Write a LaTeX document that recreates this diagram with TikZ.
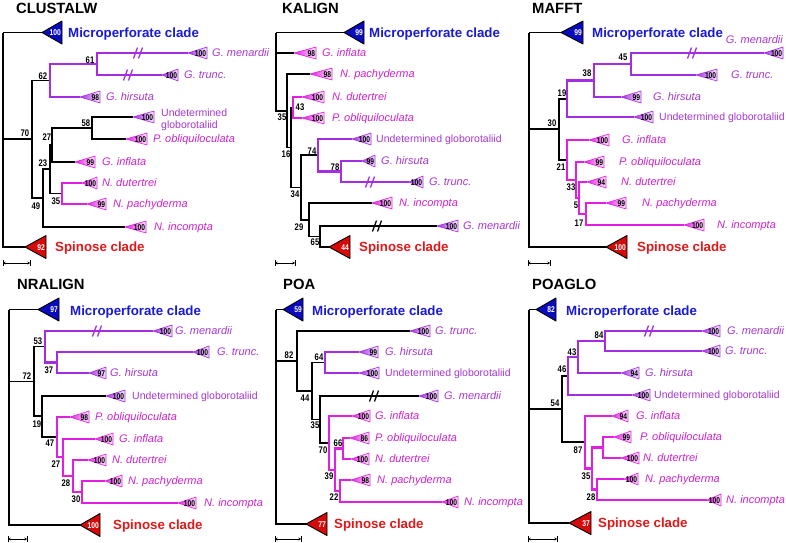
\documentclass[tikz,border=0pt]{standalone}
\usepackage{fontspec}
\setmainfont{Liberation Sans}
\newfontfamily\numfont[FakeStretch=0.8]{Liberation Sans}
\usetikzlibrary{arrows.meta}
\definecolor{puL}{RGB}{165,45,225}
\definecolor{mgL}{RGB}{225,30,225}
\definecolor{puT}{RGB}{165,55,210}
\definecolor{mgT}{RGB}{205,35,205}
\definecolor{blueF}{RGB}{10,10,190}
\definecolor{redF}{RGB}{215,10,10}
\definecolor{blueT}{RGB}{25,25,215}
\definecolor{redT}{RGB}{225,25,25}
\tikzset{
 bk/.style={line width=1.8pt,draw=black},
 pu/.style={line width=2.1pt,draw=puL},
 mg/.style={line width=2.1pt,draw=mgL},
 ttl/.style={anchor=west,inner sep=0pt,font=\fontsize{14.8}{16}\selectfont\bfseries,text height=10.6pt,text depth=0pt},
 clade/.style={anchor=west,inner sep=0pt,font=\fontsize{13.3}{15}\selectfont\bfseries,text height=9.5pt,text depth=0pt},
 lab/.style={anchor=west,inner sep=0pt,font=\fontsize{11}{13}\selectfont\itshape,text height=7.9pt,text depth=0pt},
 labu/.style={anchor=west,inner sep=0pt,font=\fontsize{10.5}{12}\selectfont,text height=7.5pt,text depth=0pt},
 bs/.style={inner sep=0pt,font=\numfont\bfseries\fontsize{9.6}{11}\selectfont,text height=6.9pt,text depth=0pt},
 tn/.style={inner sep=0pt,anchor=east,font=\numfont\bfseries\fontsize{8.4}{9}\selectfont,text height=6pt,text depth=0pt},
 tnw/.style={tn,text=white},
}
% branch: style, parent x, parent y, child x, child y
\newcommand\Br[5]{\draw[#1] (#2,#3) |- (#4,#5);}
% break mark
\newcommand\Bk[3]{\draw[#1,line width=1.3pt] ({#2-4.5},{#3+5.5}) -- ({#2-0.5},{#3-5.5}) ({#2+0.5},{#3+5.5}) -- ({#2+4.5},{#3-5.5});}
% leaf triangle: apex x, y, base x, number, colour
\newcommand\Lf[5]{\shadedraw[left color=#5,right color=#5!8,middle color=#5!55,draw=#5,line width=0.6pt,line join=round] (#1,#2) -- (#3,{#2-6}) -- (#3,{#2+6}) -- cycle;
 \node[tn] at ({#3-0.6},#2) {#4};}
% clade triangle
\newcommand\Cl[5]{\filldraw[fill=#5,draw=black,line width=0.9pt,line join=round] (#1,#2) -- (#3,{#2-11.5}) -- (#3,{#2+11.5}) -- cycle;
 \node[tnw] at ({#3-1},#2) {#4};}
% scale bar
\newcommand\Sb[3]{\draw[line width=0.6pt,{Stealth[length=2.6pt,width=3pt]}-{Stealth[length=2.6pt,width=3pt]}] (#1,#3) -- (#2,#3);
 \draw[line width=0.6pt] (#1,{#3-2.6}) -- (#1,{#3+2.6}) (#2,{#3-2.6}) -- (#2,{#3+2.6});}
\begin{document}
\begin{tikzpicture}[x=1pt,y=-1pt]
\fill[white] (0,0) rectangle (786,542);
\useasboundingbox (0,0) rectangle (786,542);

%================ CLUSTALW
\begin{scope}
\node[ttl] (t1) at (16,8) {CLUSTALW};
\draw[bk] (3,32.5) -- (42,32.5);
\Br{bk}{3}{32.5}{32}{139}
\Br{bk}{3}{32.5}{25}{247}
\Br{bk}{32}{139}{50}{80.5}
\Br{bk}{32}{139}{43}{198}
\Br{pu}{50}{80.5}{97}{64}
\Br{pu}{50}{80.5}{80}{97}
\Br{pu}{97}{64}{188}{53}
\Br{pu}{97}{64}{162}{75}
\Br{bk}{43}{198}{50}{169}
\Br{bk}{43}{198}{125}{227}
\Br{bk}{50}{169}{52}{145}
\Br{bk}{50}{169}{62}{193.5}
\Br{bk}{52}{145}{92}{128}
\Br{bk}{52}{145}{75}{162}
\Br{bk}{92}{128}{133}{117}
\Br{bk}{92}{128}{126}{139}
\Br{mg}{62}{193.5}{82}{183}
\Br{mg}{62}{193.5}{87}{204}
\Bk{pu}{138}{53}
\Bk{pu}{128}{75}
\Cl{42}{32.5}{62}{100}{blueF}
\Cl{25}{247}{46}{92}{redF}
\node[clade,text=blueT] (m1) at (68,32.5) {Microperforate clade};
\node[clade,text=redT] (s1) at (55,247) {Spinose clade};
\Lf{188}{53}{207}{100}{puL}
\Lf{162}{75}{178}{100}{puL}
\Lf{80}{97}{100}{98}{puL}
\Lf{133}{117}{154}{100}{puL}
\Lf{126}{139}{147}{100}{mgL}
\Lf{75}{162}{95}{99}{mgL}
\Lf{82}{183}{97}{100}{mgL}
\Lf{87}{204}{106}{99}{mgL}
\Lf{125}{227}{146}{100}{mgL}
\node[lab,text=puT] (a1) at (212,53) {G. menardii};
\node[lab,text=puT] (a2) at (184,75) {G. trunc.};
\node[lab,text=puT] (a3) at (106,97) {G. hirsuta};
\node[labu,text=puT] (a4) at (161,112.5) {Undetermined};
\node[labu,text=puT] (a4b) at (161,124.5) {globorotaliid};
\node[lab,text=mgT] (a5) at (153,139) {P. obliquiloculata};
\node[lab,text=mgT] (a6) at (102,162) {G. inflata};
\node[lab,text=mgT] (a7) at (102,183) {N. dutertrei};
\node[lab,text=mgT] (a8) at (113,204) {N. pachyderma};
\node[lab,text=mgT] (a9) at (154,227) {N. incompta};
\node[bs] (b1) at (90,60) {61};
\node[bs] (b2) at (43,76) {62};
\node[bs] (b3) at (86,123) {58};
\node[bs] (b4) at (25,133) {70};
\node[bs] (b5) at (47,137) {27};
\node[bs] (b6) at (43,163) {23};
\node[bs] (b7) at (56,201) {35};
\node[bs] (b8) at (36,206) {49};
\Sb{3}{30}{263}
\end{scope}

%================ KALIGN
\begin{scope}[shift={(262,0)}]
\node[ttl] (t2) at (20,8) {KALIGN};
\draw[bk] (14,32.5) -- (82,32.5);
\Br{bk}{14}{32.5}{32}{53}
\Br{bk}{14}{32.5}{25}{111}
\Br{bk}{25}{111}{48}{74}
\Br{bk}{25}{111}{29}{147.5}
\Br{bk}{29}{147.5}{31}{107.5}
\Br{bk}{29}{147.5}{39}{187.5}
\Br{mg}{31}{107.5}{40}{97}
\Br{mg}{31}{107.5}{40}{118}
\Br{bk}{39}{187.5}{56}{155}
\Br{bk}{39}{187.5}{47}{220}
\Br{pu}{56}{155}{90}{139}
\Br{pu}{56}{155}{79}{171.5}
\Br{pu}{79}{171.5}{100}{161}
\Br{pu}{79}{171.5}{147}{182}
\Br{bk}{47}{220}{110}{203}
\Br{bk}{47}{220}{58}{236.5}
\Br{bk}{58}{236.5}{175}{226}
\Br{bk}{58}{236.5}{67}{247}
\Bk{pu}{108}{182}
\Bk{bk}{115}{226}
\Cl{82}{32.5}{102}{99}{blueF}
\Cl{67}{247}{88}{44}{redF}
\node[clade,text=blueT] (m2) at (107,32.5) {Microperforate clade};
\node[clade,text=redT] (s2) at (97,247) {Spinose clade};
\Lf{32}{53}{54}{98}{mgL}
\Lf{48}{74}{70}{98}{mgL}
\Lf{40}{97}{62}{100}{mgL}
\Lf{40}{118}{62}{100}{mgL}
\Lf{90}{139}{109}{100}{puL}
\Lf{100}{161}{113}{99}{puL}
\Lf{147}{182}{161}{100}{puL}
\Lf{110}{203}{130}{100}{mgL}
\Lf{175}{226}{196}{100}{puL}
\node[lab,text=mgT] (c1) at (60,53) {G. inflata};
\node[lab,text=mgT] (c2) at (78,74) {N. pachyderma};
\node[lab,text=mgT] (c3) at (70,97) {N. dutertrei};
\node[lab,text=mgT] (c4) at (70,118) {P. obliquiloculata};
\node[labu,text=puT] (c5) at (114,139) {Undetermined globorotaliid};
\node[lab,text=puT] (c6) at (119,161) {G. hirsuta};
\node[lab,text=puT] (c7) at (167,182) {G. trunc.};
\node[lab,text=mgT] (c8) at (137,203) {N. incompta};
\node[lab,text=puT] (c9) at (201,226) {G. menardii};
\node[bs] (d1) at (20,117) {35};
\node[bs] (d2) at (38,107) {43};
\node[bs] (d3) at (24,154) {16};
\node[bs] (d4) at (33,194) {34};
\node[bs] (d5) at (50,151) {74};
\node[bs] (d6) at (73,167) {78};
\node[bs] (d7) at (37,227) {29};
\node[bs] (d8) at (53,242) {65};
\Sb{13}{33}{263}
\end{scope}

%================ MAFFT
\begin{scope}[shift={(524,0)}]
\node[ttl] (t3) at (8,8) {MAFFT};
\draw[bk] (5,32.5) -- (37,32.5);
\Br{bk}{5}{32.5}{35}{129}
\Br{bk}{5}{32.5}{82}{247}
\Br{bk}{35}{129}{43}{99}
\Br{bk}{35}{129}{43}{160}
\Br{pu}{43}{99}{70}{80.5}
\Br{pu}{43}{99}{110}{117}
\Br{pu}{70}{80.5}{107}{64}
\Br{pu}{70}{80.5}{97}{97}
\Br{pu}{107}{64}{240}{53}
\Br{pu}{107}{64}{172}{75}
\Br{mg}{43}{160}{65}{140}
\Br{mg}{43}{160}{52}{180}
\Br{mg}{52}{180}{60}{162}
\Br{mg}{52}{180}{55}{198}
\Br{mg}{55}{198}{63}{182}
\Br{mg}{55}{198}{62}{214}
\Br{mg}{62}{214}{82}{203}
\Br{mg}{62}{214}{160}{225}
\Bk{pu}{168}{53}
\Cl{37}{32.5}{59}{99}{blueF}
\Cl{82}{247}{103}{100}{redF}
\node[clade,text=blueT] (m3) at (68,32.5) {Microperforate clade};
\node[clade,text=redT] (s3) at (113,247) {Spinose clade};
\Lf{240}{53}{259}{100}{puL}
\Lf{172}{75}{193}{100}{puL}
\Lf{97}{97}{117}{99}{puL}
\Lf{110}{117}{129}{100}{puL}
\Lf{65}{140}{85}{100}{mgL}
\Lf{60}{162}{80}{99}{mgL}
\Lf{63}{182}{82}{94}{mgL}
\Lf{82}{203}{102}{99}{mgL}
\Lf{160}{225}{180}{100}{mgL}
\node[lab,text=puT,anchor=east] (e1) at (259,40) {G. menardii};
\node[lab,text=puT] (e2) at (207,75) {G. trunc.};
\node[lab,text=puT] (e3) at (129,97) {G. hirsuta};
\node[labu,text=puT] (e4) at (135,117) {Undetermined globorotaliid};
\node[lab,text=mgT] (e5) at (98,140) {G. inflata};
\node[lab,text=mgT] (e6) at (95,162) {P. obliquiloculata};
\node[lab,text=mgT] (e7) at (97,182) {N. dutertrei};
\node[lab,text=mgT] (e8) at (118,203) {N. pachyderma};
\node[lab,text=mgT] (e9) at (193,225) {N. incompta};
\node[bs] (f1) at (99,57) {45};
\node[bs] (f2) at (63,73) {38};
\node[bs] (f3) at (38,93) {19};
\node[bs] (f4) at (28,123) {30};
\node[bs] (f5) at (37,167) {21};
\node[bs] (f6) at (47,187) {33};
\node[bs] (f7) at (52,205) {5};
\node[bs] (f8) at (55,223) {17};
\Sb{4}{26}{263}
\end{scope}

%================ NRALIGN
\begin{scope}[shift={(0,270)}]
\node[ttl] (t4) at (17,14) {NRALIGN};
\draw[bk] (9,39.5) -- (38,39.5);
\Br{bk}{9}{39.5}{34}{111.5}
\Br{bk}{9}{39.5}{80}{255}
\Br{bk}{34}{111.5}{45}{76.5}
\Br{bk}{34}{111.5}{42}{146}
\Br{pu}{45}{76.5}{153}{61}
\Br{pu}{45}{76.5}{57}{92.5}
\Br{pu}{57}{92.5}{193}{82}
\Br{pu}{57}{92.5}{89}{103}
\Br{bk}{42}{146}{106}{126}
\Br{bk}{42}{146}{57}{167}
\Br{mg}{57}{167}{70}{147}
\Br{mg}{57}{167}{63}{187}
\Br{mg}{63}{187}{95}{169}
\Br{mg}{63}{187}{73}{206}
\Br{mg}{73}{206}{88}{190}
\Br{mg}{73}{206}{82}{222}
\Br{mg}{82}{222}{105}{211}
\Br{mg}{82}{222}{178}{233}
\Bk{pu}{97}{61}
\Cl{38}{39.5}{59}{97}{blueF}
\Cl{80}{255}{100}{100}{redF}
\node[clade,text=blueT] (m4) at (70,40.5) {Microperforate clade};
\node[clade,text=redT] (s4) at (113,255) {Spinose clade};
\Lf{153}{61}{172}{100}{puL}
\Lf{193}{82}{209}{100}{puL}
\Lf{89}{103}{106}{97}{puL}
\Lf{106}{126}{125}{100}{puL}
\Lf{70}{147}{89}{98}{mgL}
\Lf{95}{169}{113}{100}{mgL}
\Lf{88}{190}{106}{100}{mgL}
\Lf{105}{211}{122}{100}{mgL}
\Lf{178}{233}{196}{100}{mgL}
\node[lab,text=puT] (g1) at (175,61) {G. menardii};
\node[lab,text=puT] (g2) at (217,82) {G. trunc.};
\node[lab,text=puT] (g3) at (110,103) {G. hirsuta};
\node[labu,text=puT] (g4) at (132,126) {Undetermined globorotaliid};
\node[lab,text=mgT] (g5) at (95,147) {P. obliquiloculata};
\node[lab,text=mgT] (g6) at (119,169) {G. inflata};
\node[lab,text=mgT] (g7) at (112,190) {N. dutertrei};
\node[lab,text=mgT] (g8) at (128,211) {N. pachyderma};
\node[lab,text=mgT] (g9) at (204,233) {N. incompta};
\node[bs] (h1) at (27,106) {72};
\node[bs] (h2) at (38,71) {53};
\node[bs] (h3) at (49,100) {37};
\node[bs] (h4) at (37,154) {19};
\node[bs] (h5) at (50,173) {47};
\node[bs] (h6) at (56,194) {27};
\node[bs] (h7) at (66,213) {28};
\node[bs] (h8) at (76,229) {30};
\Sb{8}{27}{269}
\end{scope}

%================ POA
\begin{scope}[shift={(262,270)}]
\node[ttl] (t5) at (21,14) {POA};
\draw[bk] (14,39.5) -- (21,39.5);
\Br{bk}{14}{39.5}{35}{91}
\Br{bk}{14}{39.5}{44}{254}
\Br{bk}{35}{91}{148}{61}
\Br{bk}{35}{91}{50}{121}
\Br{bk}{50}{121}{63}{92.5}
\Br{bk}{50}{121}{58}{149.5}
\Br{pu}{63}{92.5}{97}{82}
\Br{pu}{63}{92.5}{97}{103}
\Br{bk}{58}{149.5}{157}{126}
\Br{bk}{58}{149.5}{67}{173}
\Br{mg}{67}{173}{90}{146}
\Br{mg}{67}{173}{73}{200}
\Br{mg}{73}{200}{81}{178.5}
\Br{mg}{73}{200}{78}{221}
\Br{mg}{81}{178.5}{88}{168}
\Br{mg}{81}{178.5}{89}{189}
\Br{mg}{78}{221}{89}{210}
\Br{mg}{78}{221}{180}{232}
\Bk{bk}{112}{126}
\Cl{21}{39.5}{41}{59}{blueF}
\Cl{44}{254}{65}{77}{redF}
\node[clade,text=blueT] (m5) at (50,40.5) {Microperforate clade};
\node[clade,text=redT] (s5) at (72,254) {Spinose clade};
\Lf{148}{61}{168}{100}{puL}
\Lf{97}{82}{116}{99}{puL}
\Lf{97}{103}{117}{100}{puL}
\Lf{157}{126}{176}{100}{puL}
\Lf{90}{146}{108}{100}{mgL}
\Lf{88}{168}{107}{86}{mgL}
\Lf{89}{189}{107}{100}{mgL}
\Lf{89}{210}{108}{98}{mgL}
\Lf{180}{232}{196}{100}{mgL}
\node[lab,text=puT] (i1) at (173,61) {G. trunc.};
\node[lab,text=puT] (i2) at (123,82) {G. hirsuta};
\node[labu,text=puT] (i3) at (123,103) {Undetermined globorotaliid};
\node[lab,text=puT] (i4) at (182,126) {G. menardii};
\node[lab,text=mgT] (i5) at (113,146) {G. inflata};
\node[lab,text=mgT] (i6) at (113,168) {P. obliquiloculata};
\node[lab,text=mgT] (i7) at (113,189) {N. dutertrei};
\node[lab,text=mgT] (i8) at (115,210) {N. pachyderma};
\node[lab,text=mgT] (i9) at (202,232) {N. incompta};
\node[bs] (j1) at (27,85) {82};
\node[bs] (j2) at (57,87) {64};
\node[bs] (j3) at (43,128) {44};
\node[bs] (j4) at (53,155) {35};
\node[bs] (j5) at (61,180) {70};
\node[bs] (j6) at (76,173) {66};
\node[bs] (j7) at (67,206) {39};
\node[bs] (j8) at (72,227) {22};
\Sb{13}{39}{269}
\end{scope}

%================ POAGLO
\begin{scope}[shift={(524,270)}]
\node[ttl] (t6) at (8,14) {POAGLO};
\draw[bk] (5,39.5) -- (12,39.5);
\Br{bk}{5}{39.5}{38}{139}
\Br{bk}{5}{39.5}{45}{253}
\Br{bk}{38}{139}{44}{106}
\Br{bk}{38}{139}{61}{172}
\Br{pu}{44}{106}{54}{87}
\Br{pu}{44}{106}{108}{125}
\Br{pu}{54}{87}{81}{71}
\Br{pu}{54}{87}{97}{103}
\Br{pu}{81}{71}{178}{61}
\Br{pu}{81}{71}{178}{81}
\Br{mg}{61}{172}{88}{146}
\Br{mg}{61}{172}{68}{198.5}
\Br{mg}{68}{198.5}{79}{177.5}
\Br{mg}{68}{198.5}{73}{219.5}
\Br{mg}{79}{177.5}{90}{167}
\Br{mg}{79}{177.5}{97}{188}
\Br{mg}{73}{219.5}{100}{209}
\Br{mg}{73}{219.5}{183}{230}
\Bk{pu}{125}{61}
\Cl{12}{39.5}{32}{82}{blueF}
\Cl{45}{253}{67}{37}{redF}
\node[clade,text=blueT] (m6) at (42,40.5) {Microperforate clade};
\node[clade,text=redT] (s6) at (74,253) {Spinose clade};
\Lf{178}{61}{196}{100}{puL}
\Lf{178}{81}{196}{100}{puL}
\Lf{97}{103}{115}{94}{puL}
\Lf{108}{125}{126}{100}{puL}
\Lf{88}{146}{104}{94}{mgL}
\Lf{90}{167}{107}{99}{mgL}
\Lf{97}{188}{115}{100}{mgL}
\Lf{100}{209}{114}{100}{mgL}
\Lf{183}{230}{197}{100}{mgL}
\node[lab,text=puT] (k1) at (203,61) {G. menardii};
\node[lab,text=puT] (k2) at (201,81) {G. trunc.};
\node[lab,text=puT] (k3) at (121,103) {G. hirsuta};
\node[labu,text=puT] (k4) at (130,125) {Undetermined globorotaliid};
\node[lab,text=mgT] (k5) at (112,146) {G. inflata};
\node[lab,text=mgT] (k6) at (116,167) {P. obliquiloculata};
\node[lab,text=mgT] (k7) at (119,188) {N. dutertrei};
\node[lab,text=mgT] (k8) at (121,209) {N. pachyderma};
\node[lab,text=mgT] (k9) at (202,230) {N. incompta};
\node[bs] (l1) at (31,133) {54};
\node[bs] (l2) at (38,99) {46};
\node[bs] (l3) at (48,82) {43};
\node[bs] (l4) at (75,65) {84};
\node[bs] (l5) at (54,180) {87};
\node[bs] (l6) at (62,206) {35};
\node[bs] (l7) at (67,227) {28};
\Sb{4}{33}{269}
\end{scope}
\end{tikzpicture}
\end{document}
